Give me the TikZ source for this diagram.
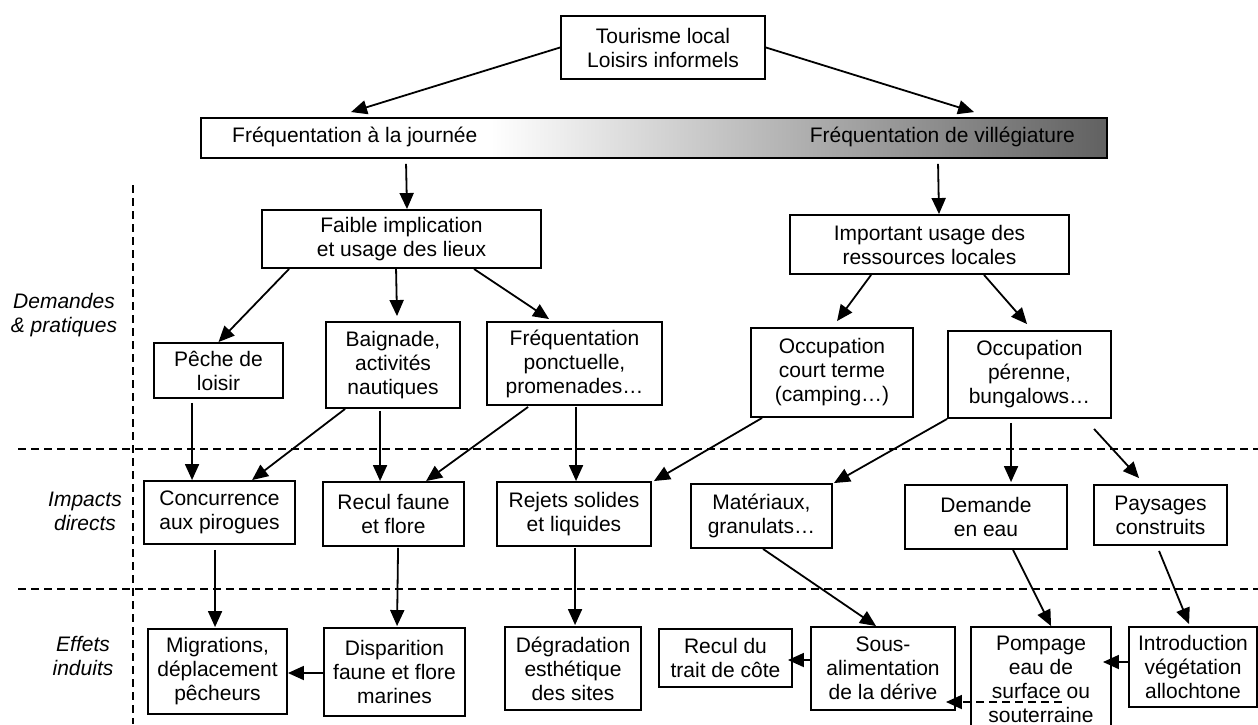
\documentclass[tikz,border=0pt]{standalone}
\usepackage{fontspec}
\setmainfont{Liberation Sans}
\usetikzlibrary{arrows.meta,calc}
\pgfdeclarehorizontalshading{barshade}{100bp}{color(0bp)=(white); color(25bp)=(white); color(41bp)=(white); color(75bp)=(black!62); color(100bp)=(black!62)}
\begin{document}
\begin{tikzpicture}[x=1pt,y=-1pt,
  box/.style={draw, line width=1.9pt, inner sep=0pt, align=center, fill=white,
    font=\fontsize{21}{24}\selectfont},
  lab/.style={inner sep=0pt, align=center, font=\fontsize{21}{24}\selectfont\itshape},
  txt/.style={inner sep=0pt, font=\fontsize{21}{24}\selectfont},
  arr/.style={line width=1.8pt, -{Triangle[length=16pt,width=14pt]}},
  sep/.style={line width=1.7pt, dash pattern=on 8pt off 5pt}]
\useasboundingbox (0,0) rectangle (1258,724);
\fill[white] (0,0) rectangle (1258,724);
% separators
\draw[sep] (18,449) -- (1258,449);
\draw[sep] (18,589) -- (1258,589);
\draw[sep] (133,185) -- (133,724);
% labels
\node[lab] (lDem) at (64,315) {Demandes\\\& pratiques};
\node[lab] (lImp) at (85,511) {Impacts\\directs};
\node[lab] (lEff) at (83,656) {Effets\\induits};
% top
\node[box, minimum width=204pt, minimum height=63pt] (top) at (663,47.5) {Tourisme local\\Loisirs informels};
\node[draw, line width=1.9pt, shade, shading=barshade, minimum width=906pt, minimum height=40pt, inner sep=0pt] (bar) at (654,138) {};
\node[txt, anchor=west] (barL) at (232,137) {Fréquentation à la journée};
\node[txt, anchor=east] (barR) at (1075,137) {Fréquentation de villégiature};
% level 2
\node[box, minimum width=279pt, minimum height=58pt] (faible) at (401.5,239) {Faible implication\\et usage des lieux};
\node[box, minimum width=279pt, minimum height=59pt] (impt) at (929.5,244.5) {Important usage des\\ressources locales};
% level 3
\node[box, minimum width=129pt, minimum height=55pt] (peche) at (218.5,370.5) {Pêche de\\loisir};
\node[box, minimum width=134pt, minimum height=86pt] (baign) at (393,365) {Baignade,\\activités\\nautiques};
\node[box, minimum width=175pt, minimum height=83pt] (freqp) at (574.5,363.5) {Fréquentation\\ponctuelle,\\promenades…};
\node[box, minimum width=162pt, minimum height=89pt] (court) at (832,372.5) {Occupation\\court terme\\(camping…)};
\node[box, minimum width=163pt, minimum height=87pt] (peren) at (1029.5,374.5) {Occupation\\pérenne,\\bungalows…};
% impacts
\node[box, minimum width=151pt, minimum height=63pt] (concu) at (219.5,512.5) {Concurrence\\aux pirogues};
\node[box, minimum width=141pt, minimum height=64pt] (reculf) at (393.5,514) {Recul faune\\et flore};
\node[box, minimum width=154pt, minimum height=64pt] (rejets) at (574,514) {Rejets solides\\et liquides};
\node[box, minimum width=141pt, minimum height=64pt] (mater) at (761.5,516) {Matériaux,\\granulats…};
\node[box, minimum width=162pt, minimum height=64pt] (deman) at (986,517) {Demande\\en eau};
\node[box, minimum width=133pt, minimum height=60pt] (paysa) at (1160.5,515) {Paysages\\construits};
% effects
\node[box, minimum width=139pt, minimum height=85pt] (migr) at (217.5,671.5) {Migrations,\\déplacement\\pêcheurs};
\node[box, minimum width=141pt, minimum height=88pt] (dispa) at (394.5,672) {Disparition\\faune et flore\\marines};
\node[box, minimum width=136pt, minimum height=83pt] (degra) at (573,668.5) {Dégradation\\esthétique\\des sites};
\node[box, minimum width=133pt, minimum height=58pt] (reculc) at (725.5,658) {Recul du\\trait de côte};
\node[box, minimum width=144pt, minimum height=83pt] (sous) at (883,668.5) {Sous-\\alimentation\\de la dérive};
\node[box, minimum width=140pt, minimum height=104pt] (pomp) at (1041,679) {Pompage\\eau de\\surface ou\\souterraine};
\node[box, minimum width=128pt, minimum height=80pt] (intro) at (1193,667) {Introduction\\végétation\\allochtone};
% connectors
\draw[arr] (top.west) -- ($(bar.north west)+(151,-5)$);
\draw[arr] (top.east) -- ($(bar.north west)+(774,-5)$);
\draw[arr] ($(bar.south west)+(206,5)$) -- ($(faible.north)+(5.5,0)$);
\draw[arr] ($(bar.south west)+(738,5)$) -- ($(impt.north)+(9.5,0)$);
\draw[arr] ($(faible.south west)+(28,0)$) -- (peche.north);
\draw[arr] ($(faible.south west)+(135,0)$) -- ($(baign.north)+(4,-5)$);
\draw[arr] ($(faible.south west)+(213,0)$) -- ($(freqp.north west)+(63,-2)$);
\draw[arr] ($(impt.south west)+(82,0)$) -- ($(court.north west)+(87,-6)$);
\draw[arr] ($(impt.south west)+(195,0)$) -- ($(peren.north west)+(80,-6)$);
\draw[arr] ($(peche.south west)+(39,4)$) -- ($(concu.north west)+(49,0)$);
\draw[arr] ($(baign.south west)+(20,0)$) -- ($(concu.north west)+(109,0)$);
\draw[arr] ($(baign.south west)+(55,2)$) -- ($(reculf.north west)+(58,0)$);
\draw[arr] ($(freqp.south west)+(42,1)$) -- ($(reculf.north west)+(104,0)$);
\draw[arr] ($(freqp.south west)+(90,1)$) -- ($(rejets.north west)+(80,0)$);
\draw[arr] ($(court.south west)+(12,0)$) -- ($(rejets.north east)+(2,0)$);
\draw[arr] (peren.south west) -- ($(mater.north east)+(1,0)$);
\draw[arr] ($(peren.south west)+(64,4)$) -- ($(deman.north west)+(107,-2)$);
\draw[arr] ($(peren.south west)+(147,10)$) -- ($(paysa.north west)+(46,-6)$);
\draw[arr] ($(concu.south west)+(72,5)$) -- ($(migr.north west)+(68,-1)$);
\draw[arr] ($(reculf.south west)+(76,1)$) -- ($(dispa.north west)+(74,-1)$);
\draw[arr] ($(rejets.south west)+(79,1)$) -- ($(degra.north west)+(71,-1)$);
\draw[arr] ($(mater.south west)+(73,0)$) -- ($(sous.north west)+(66,0)$);
\draw[arr] ($(deman.south west)+(109,0)$) -- ($(pomp.north west)+(81,0)$);
\draw[arr] ($(paysa.south west)+(66,5)$) -- ($(intro.north west)+(61,-2)$);
\draw[arr] ($(dispa.west)+(0,1)$) -- ($(migr.east)+(0,1.5)$);
\draw[arr] ($(sous.west)+(0,-8.5)$) -- ($(reculc.east)+(-5,2)$);
\draw[arr] ($(intro.west)+(0,-5)$) -- ($(pomp.east)+(-9,-17)$);
\draw[arr, dash pattern=on 8pt off 5pt] ($(pomp.west)+(92,23)$) -- ($(sous.east)+(-10,33.5)$);
\end{tikzpicture}
\end{document}
